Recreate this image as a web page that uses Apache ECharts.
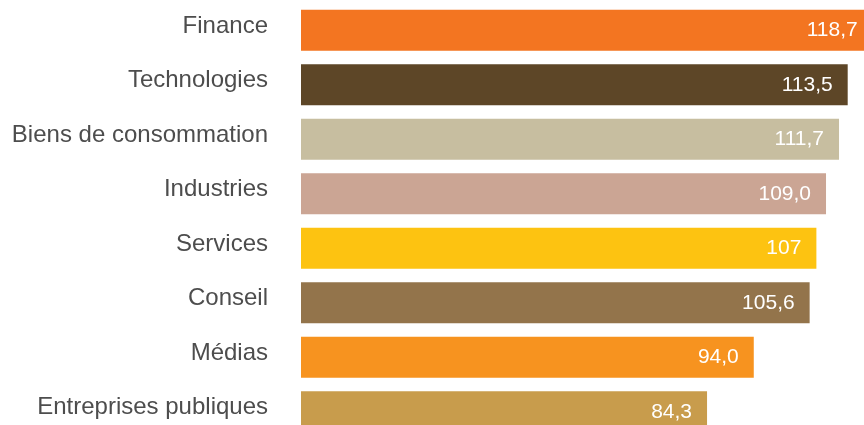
<!DOCTYPE html>
<html><head><meta charset="utf-8">
<script src="https://cdn.jsdelivr.net/npm/echarts@6/dist/echarts.min.js"></script>
<style>html,body{margin:0;padding:0;background:#fff}#c{width:864px;height:425px}</style>
</head><body><div id="c"></div>
<script>
const categories = ["Finance","Technologies","Biens de consommation","Industries","Services","Conseil","Médias","Entreprises publiques"];
const values = [118.7,113.5,111.7,109.0,107,105.6,94.0,84.3];
const valueLabels = ["118,7","113,5","111,7","109,0","107","105,6","94,0","84,3"];
const colors = ["#F37521","#5D4627","#C7BEA0","#CBA594","#FDC311","#93744B","#F7931F","#C89C4C"];

const chart = echarts.init(document.getElementById('c'), null, {renderer:'canvas'});
chart.setOption({
  animation:false,
  grid:{left:301, top:3, width:578, height:436, containLabel:false, outerBoundsMode:'none'},
  xAxis:{type:'value', min:0, max:120, show:false},
  yAxis:{type:'category', data:categories, inverse:true,
    axisLine:{show:false}, axisTick:{show:false}, splitLine:{show:false},
    axisLabel:{margin:33, color:'#4d4d4d', fontSize:24, fontFamily:'Liberation Sans', verticalAlign:'bottom', lineHeight:8}},
  series:[{type:'bar', barWidth:41,
    data: values.map((v,i)=>({value:v, itemStyle:{color:colors[i]}})),
    label:{show:true, position:'insideRight', distance:15, color:'#fff', fontSize:21, fontFamily:'Liberation Sans',
      formatter:p=>valueLabels[p.dataIndex]}
  }]
});
</script></body></html>
